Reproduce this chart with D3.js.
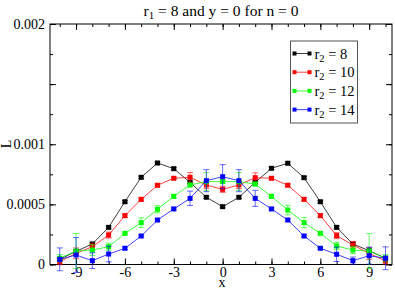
<!DOCTYPE html>
<html>
<head>
<meta charset="utf-8">
<script src="https://cdn.jsdelivr.net/npm/d3@7"></script>
<style>
  body { margin: 0; background: #fff; }
  svg text { font-family: "Liberation Serif", "Times New Roman", serif; fill: #000; }
</style>
</head>
<body>
<svg width="395" height="289"></svg>
<script>
// values (L in units of 1e-4)
const xs = d3.range(-10, 11);
const seriesNames = ["8", "10", "12", "14"];
const seriesColors = ["#000000", "#ff0000", "#00ff00", "#0000ff"];

const r8 = [0.43, 1.1, 1.7, 3.09, 5.22, 7.25, 8.44, 7.97, 6.83, 5.59, 4.81, 5.59, 6.83, 8.0, 8.42, 7.22, 5.22, 3.09, 1.7, 1.15, 0.52];
const r8err = [0.12, 0.1, 0.15, 0.12, 0.1, 0.1, 0.1, 0.1, 0.1, 0.1, 0.1, 0.1, 0.1, 0.1, 0.1, 0.1, 0.1, 0.12, 0.15, 0.1, 0.12];
const r10 = [0.23, 0.93, 1.48, 2.45, 4.06, 5.42, 6.59, 7.17, 7.25, 6.61, 6.25, 6.61, 7.22, 7.17, 6.59, 5.42, 4.06, 2.4, 1.62, 0.93, 0.29];
const r10err = [0.25, 0.45, 0.3, 0.25, 0.15, 0.15, 0.1, 0.1, 0.4, 0.3, 0.25, 0.3, 0.4, 0.1, 0.1, 0.15, 0.15, 0.25, 0.3, 0.5, 0.25];
const r12 = [0.52, 1.12, 1.2, 1.48, 2.59, 3.48, 4.59, 5.67, 6.61, 6.89, 6.89, 6.89, 6.69, 5.67, 4.53, 3.48, 2.59, 1.54, 1.2, 1.12, 0.52];
const r12err = [0.3, 1.45, 0.45, 0.3, 0.1, 0.4, 0.3, 0.15, 0.15, 0.75, 0.15, 0.75, 0.15, 0.15, 0.4, 0.42, 0.1, 0.3, 0.3, 1.45, 0.3];
const r14 = [0.43, 0.79, 0.32, 0.87, 1.35, 2.37, 3.7, 4.62, 5.5, 6.97, 7.3, 6.97, 5.5, 4.62, 3.7, 2.37, 1.35, 0.85, 0.32, 0.73, 0.52];
const r14err = [0.95, 1.45, 0.65, 0.65, 0.1, 0.1, 0.1, 0.1, 0.6, 0.92, 1.0, 0.92, 0.67, 0.1, 0.1, 0.1, 0.1, 0.6, 0.3, 0.7, 0.95];

const xTicks = [-9, -6, -3, 0, 3, 6, 9];
const xMinor = d3.range(-10, 11);
const yTicks = [0, 0.0005, 0.001, 0.0015, 0.002];
const yLabels = ["0", "0.0005", "0.001", "", "0.002"];
const yMinor = d3.range(0, 0.00201, 0.00025);

const scaleE4 = 1e-4;
const series = [
  { name: seriesNames[0], color: seriesColors[0], v: r8, e: r8err },
  { name: seriesNames[1], color: seriesColors[1], v: r10, e: r10err },
  { name: seriesNames[2], color: seriesColors[2], v: r12, e: r12err },
  { name: seriesNames[3], color: seriesColors[3], v: r14, e: r14err }
].map((s) => ({
  ...s,
  pts: xs.map((x, i) => ({ x: x, y: s.v[i] * scaleE4, e: s.e[i] * scaleE4 }))
}));

const svg = d3.select("svg");
const L = 50, R = 392, T = 24, B = 264.5;
const serif = '"Liberation Serif", "Times New Roman", serif';

const x = d3.scaleLinear().domain([-10.6, 10.4]).range([L, R]);
const y = d3.scaleLinear().domain([0, 0.002]).range([B, T]);

// =============================================================================
// axes (ticks point inward, on all four sides)
// =============================================================================
const axes = svg.append("g").attr("class", "axes");

function addAxis(axis, transform) {
  const g = axes.append("g").attr("transform", transform).call(axis);
  g.attr("font-family", serif).attr("font-size", 14);
  g.select(".domain").remove();
  g.selectAll("line").attr("stroke", "#000");
  g.selectAll("text").attr("font-family", serif).attr("font-size", 14);
  return g;
}

addAxis(d3.axisBottom(x).tickValues(xMinor).tickSize(-3).tickFormat(""), `translate(0,${B})`);
addAxis(d3.axisBottom(x).tickValues(xTicks).tickSize(-6).tickPadding(3).tickFormat((d) => String(d)), `translate(0,${B})`);
addAxis(d3.axisTop(x).tickValues(xMinor).tickSize(-3).tickFormat(""), `translate(0,${T})`);
addAxis(d3.axisTop(x).tickValues(xTicks).tickSize(-6).tickFormat(""), `translate(0,${T})`);

addAxis(d3.axisLeft(y).tickValues(yMinor).tickSize(-3).tickFormat(""), `translate(${L},0)`);
addAxis(d3.axisLeft(y).tickValues(yTicks).tickSize(-6).tickPadding(5).tickFormat((d, i) => yLabels[i]), `translate(${L},0)`);
addAxis(d3.axisRight(y).tickValues(yMinor).tickSize(-3).tickFormat(""), `translate(${R},0)`);
addAxis(d3.axisRight(y).tickValues(yTicks).tickSize(-6).tickFormat(""), `translate(${R},0)`);

svg.append("rect")
  .attr("x", L).attr("y", T).attr("width", R - L).attr("height", B - T)
  .attr("fill", "none").attr("stroke", "#000").attr("stroke-width", 1);

// =============================================================================
// data
// =============================================================================
const line = d3.line().x((d) => x(d.x)).y((d) => y(d.y));
const capW = 3;

series.forEach((s) => {
  const g = svg.append("g");

  const eb = g.append("g").attr("stroke", s.color).attr("stroke-opacity", 0.6).attr("stroke-width", 1);
  s.pts.forEach((d) => {
    const cx = x(d.x), y0 = y(d.y - d.e), y1 = y(d.y + d.e);
    eb.append("line").attr("x1", cx).attr("x2", cx).attr("y1", y0).attr("y2", y1);
    eb.append("line").attr("x1", cx - capW).attr("x2", cx + capW).attr("y1", y0).attr("y2", y0);
    eb.append("line").attr("x1", cx - capW).attr("x2", cx + capW).attr("y1", y1).attr("y2", y1);
  });

  g.append("path")
    .datum(s.pts)
    .attr("d", line)
    .attr("fill", "none")
    .attr("stroke", s.color)
    .attr("stroke-opacity", 0.75)
    .attr("stroke-width", 1);

  g.selectAll("rect")
    .data(s.pts)
    .enter()
    .append("rect")
    .attr("x", (d) => x(d.x) - 2.5)
    .attr("y", (d) => y(d.y) - 2.5)
    .attr("width", 5)
    .attr("height", 5)
    .attr("fill", s.color);
});

// =============================================================================
// legend
// =============================================================================
const legend = svg.append("g").attr("transform", "translate(290.5,41)");
legend.append("rect")
  .attr("width", 67).attr("height", 82)
  .attr("fill", "#fff").attr("stroke", "#555").attr("stroke-width", 1);

series.forEach((s, i) => {
  const ry = 12.5 + i * 18.7;
  const row = legend.append("g").attr("transform", `translate(0,${ry})`);
  row.append("line").attr("x1", 4).attr("x2", 19).attr("y1", 0).attr("y2", 0)
    .attr("stroke", s.color).attr("stroke-opacity", 0.75);
  [4, 19].forEach((mx) => {
    row.append("rect").attr("x", mx - 2).attr("y", -2).attr("width", 4).attr("height", 4).attr("fill", s.color);
  });
  const t = row.append("text").attr("x", 24).attr("y", 5).style("font-size", "14.5px");
  t.append("tspan").text("r");
  t.append("tspan").attr("dy", 3).style("font-size", "10.5px").text("2");
  t.append("tspan").attr("dy", -3).text(" = " + s.name);
});

// =============================================================================
// titles
// =============================================================================
const title = svg.append("text")
  .attr("x", 221)
  .attr("y", 16)
  .attr("text-anchor", "middle")
  .style("font-size", "15.5px");
title.append("tspan").text("r");
title.append("tspan").attr("dy", 3).style("font-size", "11px").text("1");
title.append("tspan").attr("dy", -3).text(" = 8 and y = 0 for n = 0");

svg.append("text")
  .attr("transform", "translate(11,144) rotate(-90)")
  .attr("text-anchor", "middle")
  .style("font-size", "14px")
  .text("L");

svg.append("text")
  .attr("x", 222)
  .attr("y", 287)
  .attr("text-anchor", "middle")
  .style("font-size", "14px")
  .text("x");
</script>
</body>
</html>
